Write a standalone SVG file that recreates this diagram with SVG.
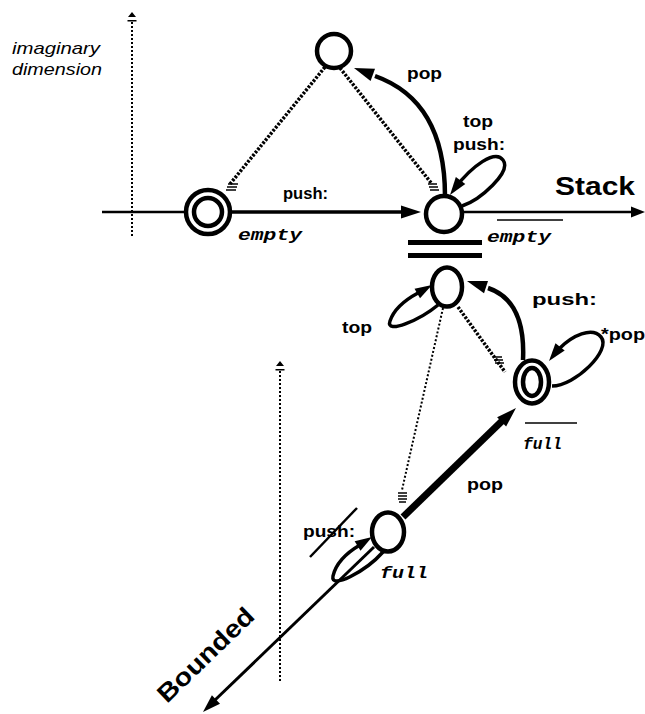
<svg xmlns="http://www.w3.org/2000/svg" xmlns:xlink="http://www.w3.org/1999/xlink" width="645" height="714" viewBox="0 0 645 714">
<style>
.node{fill:none;stroke:#000;stroke-width:4.5}
.ln{fill:none;stroke:#000;stroke-linecap:butt}
.dash{fill:none;stroke:#000;stroke-width:3.5;stroke-dasharray:2.5 1.5}
.dot{fill:none;stroke:#000;stroke-width:2;stroke-dasharray:2 2}
.hatch{stroke:#000;stroke-width:1.5}
.lbl{font-family:"Liberation Sans",Arial,sans-serif;font-weight:bold;font-size:16px;fill:#000}
.it{font-family:"Liberation Sans",Arial,sans-serif;font-style:italic;font-size:17px;fill:#000}
.mono{font-family:"Liberation Mono","Courier New",monospace;font-style:italic;font-weight:bold;font-size:16px;fill:#000}
.big{font-family:"Liberation Sans",Arial,sans-serif;font-weight:bold;font-size:25px;fill:#000}
</style>
<defs>
<path id="ah" d="M0,0 L-20,-6.5 L-20,6.5 Z" fill="#000"/>
<path id="axh" d="M0,0 L-5,-4 L-5,4 Z M-8,-4.5 L-8,4.5 L-9.5,4.5 L-9.5,-4.5 Z" fill="#000"/>
</defs>

<g id="connectors">
  <!-- imaginary dimension axes -->
  <line class="dot" x1="132" y1="22" x2="132" y2="236"/>
  <use href="#axh" transform="translate(132,12) rotate(-90)"/>
  <line class="dot" x1="280" y1="371" x2="280" y2="682"/>
  <use href="#axh" transform="translate(280,361) rotate(-90)"/>

  <!-- Stack axis -->
  <line class="ln" stroke-width="2.5" x1="102" y1="212" x2="186" y2="212"/>
  <line class="ln" stroke-width="3.5" x1="231" y1="212" x2="402" y2="212"/>
  <use href="#ah" transform="translate(421,212)"/>
  <line class="ln" stroke-width="2.5" x1="462" y1="212" x2="632" y2="212"/>
  <use href="#ah" transform="translate(645,212) scale(0.7,0.85)"/>

  <!-- projection lines top -->
  <line class="dash" x1="230" y1="184" x2="325" y2="67"/>
  <line class="hatch" x1="228" y1="184" x2="238" y2="184"/>
  <line class="hatch" x1="227" y1="187" x2="237" y2="187"/>
  <line class="hatch" x1="226" y1="190" x2="236" y2="190"/>
  <line class="dash" x1="340" y1="68" x2="432" y2="184"/>
  <line class="hatch" x1="428" y1="184" x2="437" y2="184"/>
  <line class="hatch" x1="429" y1="187" x2="438" y2="187"/>
  <line class="hatch" x1="430" y1="190" x2="439" y2="190"/>

  <!-- pop arc -->
  <path class="ln" stroke-width="4.5" d="M445,196 C445,130 420,92 375,76"/>
  <use href="#ah" transform="translate(354,68) rotate(200)"/>

  <!-- top push: loop at stack node -->
  <path class="ln" stroke-width="3.5" d="M462,206 C480,200 512,172 503,160 C495,149 472,166 455,188"/>
  <use href="#ah" transform="translate(450,195) rotate(126) scale(0.9)"/>

  <!-- equality bars -->
  <line class="ln" stroke-width="5" x1="408" y1="242.5" x2="482" y2="242.5"/>
  <line class="ln" stroke-width="5" x1="408" y1="255.5" x2="482" y2="255.5"/>

  <!-- overlines -->
  <line class="ln" stroke-width="1.5" x1="497" y1="220" x2="563" y2="220"/>
  <line class="ln" stroke-width="1.5" x1="525" y1="423" x2="577" y2="423"/>

  <!-- top loop at middle node -->
  <path class="ln" stroke-width="3.5" d="M438,305 C420,320 385,335 390,321 C394,309 405,300 418,293"/>
  <use href="#ah" transform="translate(432,285) rotate(-30) scale(0.85)"/>

  <!-- push: arc full -> middle -->
  <path class="ln" stroke-width="4.5" d="M523,360 C525,318 512,296 488,288"/>
  <use href="#ah" transform="translate(467,281) rotate(198)"/>

  <!-- *pop loop at full node -->
  <path class="ln" stroke-width="3.5" d="M552,386 C575,386 612,350 601,337 C592,326 572,336 560,348"/>
  <use href="#ah" transform="translate(549,361) rotate(128) scale(0.9)"/>

  <!-- projection lines middle -->
  <line class="dash" x1="458" y1="307" x2="505" y2="372"/>
  <line class="hatch" x1="493" y1="357" x2="502" y2="357"/>
  <line class="hatch" x1="494" y1="360" x2="503" y2="360"/>
  <line class="hatch" x1="495" y1="363" x2="504" y2="363"/>
  <line class="dot" x1="443" y1="308" x2="402" y2="490"/>
  <line class="hatch" x1="398" y1="493" x2="407" y2="493"/>
  <line class="hatch" x1="398" y1="496" x2="407" y2="496"/>
  <line class="hatch" x1="398" y1="499" x2="407" y2="499"/>
  <line class="hatch" x1="399" y1="502" x2="406" y2="502"/>

  <!-- pop thick: bottom -> full -->
  <line class="ln" stroke-width="7" x1="403" y1="517" x2="502" y2="421"/>
  <use href="#ah" transform="translate(516,408) rotate(-44)"/>

  <!-- Bounded axis -->
  <line class="ln" stroke-width="3" x1="374" y1="547" x2="214" y2="701"/>
  <use href="#ah" transform="translate(203,712) rotate(136) scale(0.9)"/>

  <!-- push: loop at bottom node -->
  <path class="ln" stroke-width="3.5" d="M383,552 C365,572 330,590 333,576 C336,563 348,552 360,545"/>
  <use href="#ah" transform="translate(372,537) rotate(-32) scale(0.85)"/>
  <line class="ln" stroke-width="2.5" x1="310" y1="557" x2="357" y2="508"/>
</g>

<g id="node-top"><circle class="node" cx="334" cy="51" r="17"/></g>
<g id="node-empty">
  <circle class="node" cx="208" cy="212" r="22" stroke-width="5.5"/>
  <circle class="node" cx="208" cy="212" r="14" stroke-width="4"/>
</g>
<g id="node-stack"><circle class="node" cx="444" cy="214" r="18"/></g>
<g id="node-mid"><ellipse class="node" cx="447" cy="287" rx="15" ry="19.5"/></g>
<g id="node-full">
  <ellipse class="node" cx="532" cy="382" rx="17" ry="21.5"/>
  <ellipse class="node" cx="532" cy="382" rx="9" ry="14" stroke-width="3.5"/>
</g>
<g id="node-bottom"><ellipse class="node" cx="388" cy="532" rx="16" ry="19.5"/></g>

<g id="labels">
  <text class="it" x="12" y="54" textLength="88" lengthAdjust="spacingAndGlyphs">imaginary</text>
  <text class="it" x="12" y="75" textLength="90" lengthAdjust="spacingAndGlyphs">dimension</text>
  <text class="lbl" x="407" y="79" textLength="35" lengthAdjust="spacingAndGlyphs">pop</text>
  <text class="lbl" x="463" y="127" textLength="30" lengthAdjust="spacingAndGlyphs">top</text>
  <text class="lbl" x="453" y="150" textLength="52" lengthAdjust="spacingAndGlyphs">push:</text>
  <text class="lbl" x="283" y="199" textLength="45" lengthAdjust="spacingAndGlyphs">push:</text>
  <text class="big" x="555" y="195" textLength="80" lengthAdjust="spacingAndGlyphs">Stack</text>
  <text class="mono" x="238" y="240" textLength="64" lengthAdjust="spacingAndGlyphs">empty</text>
  <text class="mono" x="487" y="242" textLength="64" lengthAdjust="spacingAndGlyphs">empty</text>
  <text class="lbl" x="532" y="305" textLength="65" lengthAdjust="spacingAndGlyphs">push:</text>
  <text class="lbl" x="342" y="333" textLength="30" lengthAdjust="spacingAndGlyphs">top</text>
  <text class="lbl" x="601" y="340" textLength="44" lengthAdjust="spacingAndGlyphs">*pop</text>
  <text class="mono" x="523" y="449" textLength="39" lengthAdjust="spacingAndGlyphs">full</text>
  <text class="lbl" x="467" y="490" textLength="36" lengthAdjust="spacingAndGlyphs">pop</text>
  <text class="lbl" x="303" y="537" textLength="52" lengthAdjust="spacingAndGlyphs">push:</text>
  <text class="mono" x="380" y="578" textLength="48" lengthAdjust="spacingAndGlyphs">full</text>
  <text class="big" transform="translate(167,704) rotate(-44)" textLength="124" lengthAdjust="spacingAndGlyphs">Bounded</text>
</g>
</svg>
